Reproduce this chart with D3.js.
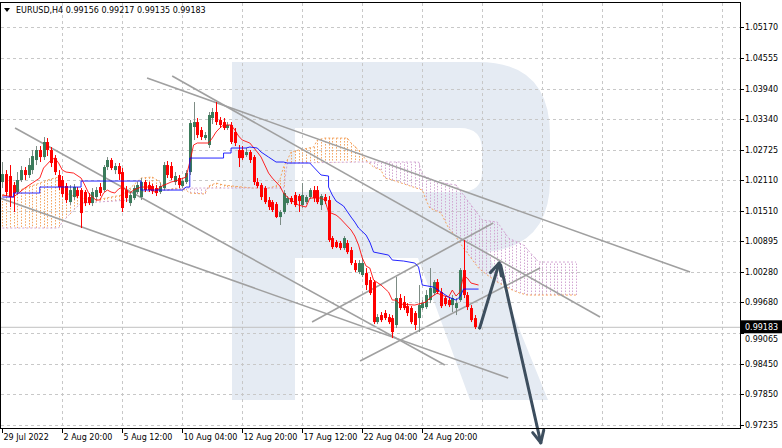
<!DOCTYPE html>
<html><head><meta charset="utf-8">
<script src="https://cdn.jsdelivr.net/npm/d3@7/dist/d3.min.js"></script>
<style>body{margin:0;background:#fff}svg{display:block}</style>
</head><body><svg id="c" width="782" height="448"></svg>
<script>
// ---------- data ----------
const symbolName = "EURUSD,H4";
const lastQuote = [0.99156, 0.99217, 0.99135, 0.99183];
const firstBar = 1;
const opens = [1.02079,1.02238,1.02199,1.02019,1.01880,1.02119,1.02318,1.02219,1.02318,1.02518,1.02717,1.02577,1.02877,1.02717,1.02557,1.02219,1.02119,1.01999,1.01680,1.01780,1.01919,1.01919,1.01880,1.01780,1.01660,1.01780,1.01979,1.01919,1.02378,1.02518,1.02318,1.02398,1.02278,1.01919,1.01660,1.01760,1.01880,1.01780,1.02079,1.02019,1.01999,1.01959,1.01880,1.01959,1.02418,1.02398,1.02079,1.02159,1.01999,1.02079,1.02278,1.03176,1.03275,1.03116,1.02956,1.02817,1.03355,1.03475,1.03315,1.03275,1.03156,1.03216,1.03076,1.02717,1.02717,1.02617,1.02677,1.02577,1.02079,1.02019,1.01959,1.01720,1.01680,1.01640,1.01381,1.01481,1.01660,1.01760,1.01820,1.01800,1.01620,1.01680,1.01780,1.01919,1.01919,1.01620,1.01780,1.01720,1.00962,1.00883,1.00863,1.00763,1.00863,1.00723,1.00464,1.00284,1.00225,1.00264,1.00125,1.00085,0.99287,0.99427,0.99467,0.99387,0.99367,0.99228,0.99766,0.99686,0.99606,0.99567,0.99467,0.99367,0.99567,0.99586,0.99726,0.99866,1.00085,0.99886,0.99766,0.99726,0.99626,0.99567,0.99726,1.00324,0.99826,0.99567,0.99367,0.99156];
const highs = [1.02478,1.02318,1.02418,1.02079,1.02278,1.02398,1.02378,1.02557,1.02717,1.02797,1.02797,1.02976,1.02956,1.02777,1.02617,1.02318,1.02199,1.02059,1.02019,1.02039,1.01979,1.01959,1.01919,1.01860,1.01959,1.01979,1.02059,1.02418,1.02577,1.02557,1.02458,1.02458,1.02358,1.01999,1.01860,1.01999,1.02079,1.02159,1.02119,1.02079,1.02039,1.02019,1.02059,1.02478,1.02498,1.02478,1.02278,1.02219,1.02159,1.02318,1.03315,1.03674,1.03355,1.03176,1.03076,1.03475,1.03555,1.03674,1.03375,1.03355,1.03275,1.03275,1.03156,1.02817,1.02797,1.02757,1.02717,1.02617,1.02159,1.02059,1.01999,1.01780,1.01720,1.01680,1.01521,1.01919,1.01800,1.01800,1.01880,1.01840,1.02059,1.01820,1.01959,1.01999,1.01999,1.01840,1.01840,1.01800,1.01002,1.00922,1.00903,1.01002,1.00922,1.00783,1.00524,1.00524,1.00564,1.00364,1.00185,1.00125,0.99447,0.99487,0.99527,0.99447,0.99427,1.00185,0.99846,0.99806,0.99666,0.99606,0.99507,1.00025,0.99726,0.99925,1.00364,1.00125,1.00145,0.99965,0.99806,0.99786,0.99826,0.99766,1.00364,1.00922,0.99886,0.99626,0.99427,0.99217];
const lows = [1.01959,1.01800,1.01580,1.01481,1.01820,1.02079,1.02119,1.02159,1.02238,1.02418,1.02478,1.02518,1.02597,1.02378,1.02219,1.01919,1.01780,1.01660,1.01620,1.01720,1.01760,1.01162,1.01600,1.01620,1.01600,1.01720,1.01800,1.01880,1.02318,1.02318,1.02238,1.02119,1.01481,1.01680,1.01600,1.01720,1.01840,1.01720,1.01880,1.01880,1.01840,1.01800,1.01840,1.01919,1.02159,1.02119,1.02019,1.01959,1.01959,1.02039,1.02219,1.02916,1.02956,1.02916,1.02916,1.02757,1.03235,1.03216,1.03156,1.03116,1.03116,1.02837,1.02797,1.02378,1.02518,1.02577,1.02458,1.02019,1.01959,1.01720,1.01640,1.01521,1.01481,1.01361,1.01222,1.01441,1.01620,1.01640,1.01580,1.01481,1.01561,1.01640,1.01740,1.01680,1.01640,1.01521,1.01640,1.00883,1.00743,1.00763,1.00723,1.00723,1.00643,1.00424,1.00284,1.00244,1.00185,0.99925,0.99826,0.99247,0.99247,0.99287,0.99327,0.99247,0.98968,0.99168,0.99527,0.99527,0.99407,0.99247,0.99128,0.99088,0.99527,0.99547,0.99666,0.99826,0.99846,0.99567,0.99606,0.99586,0.99487,0.99427,0.99686,0.99766,0.99527,0.99287,0.99148,0.99135];
const closes = [1.02238,1.01880,1.01780,1.01860,1.02119,1.02318,1.02219,1.02418,1.02597,1.02717,1.02577,1.02877,1.02717,1.02458,1.02278,1.01979,1.01840,1.01720,1.01919,1.01979,1.01800,1.01461,1.01660,1.01660,1.01880,1.01919,1.01860,1.02378,1.02518,1.02358,1.02398,1.02238,1.01561,1.01760,1.01820,1.01959,1.02019,1.02079,1.01919,1.01919,1.01899,1.01860,1.01999,1.02418,1.02219,1.02159,1.02199,1.02019,1.02099,1.02258,1.03255,1.03275,1.03016,1.02976,1.03016,1.03415,1.03475,1.03275,1.03216,1.03156,1.03216,1.02877,1.02857,1.02557,1.02557,1.02677,1.02518,1.02079,1.01999,1.01780,1.01680,1.01580,1.01521,1.01381,1.01481,1.01860,1.01760,1.01680,1.01620,1.01700,1.01820,1.01780,1.01919,1.01760,1.01680,1.01800,1.01700,1.00922,1.00783,1.00783,1.00763,1.00962,1.00683,1.00464,1.00324,1.00464,1.00464,1.00025,0.99866,0.99287,0.99387,0.99327,0.99367,0.99287,0.99088,0.99766,0.99567,0.99567,0.99467,0.99287,0.99228,0.99626,0.99666,0.99826,0.99965,1.00085,0.99886,0.99606,0.99646,0.99626,0.99766,0.99666,1.00324,0.99826,0.99586,0.99327,0.99188,0.99183];

const tenkanSen = [[1,1.01820],[4,1.01780],[7,1.01959],[9,1.02059],[11,1.02159],[12,1.02358],[14,1.02518],[15,1.02557],[16,1.02458],[17,1.02318],[18,1.02278],[20,1.02258],[22,1.02159],[23,1.02019],[24,1.01860],[25,1.01780],[26,1.01720],[27,1.01720],[28,1.01860],[29,1.01919],[30,1.01880],[31,1.01860],[32,1.01939],[33,1.01979],[34,1.01919],[35,1.01860],[36,1.01919],[38,1.01979],[40,1.01979],[41,1.01919],[42,1.01860],[43,1.01979],[46,1.02079],[48,1.02119],[50,1.02179],[51,1.02478],[52,1.02817],[53,1.02857],[56,1.02857],[57,1.02956],[58,1.03076],[59,1.03156],[60,1.03216],[62,1.03216],[63,1.03116],[64,1.02996],[65,1.02916],[67,1.02857],[69,1.02677],[70,1.02577],[71,1.02418],[72,1.02258],[73,1.02159],[74,1.02079],[75,1.01999],[76,1.01860],[77,1.01780],[78,1.01720],[80,1.01620],[82,1.01580],[83,1.01760],[86,1.01760],[87,1.01720],[88,1.01481],[90,1.01421],[91,1.01361],[92,1.01281],[94,1.01122],[95,1.01002],[96,1.00823],[97,1.00564],[98,1.00404],[99,1.00364],[100,1.00125],[102,1.00025],[104,0.99886],[105,0.99726],[106,0.99726],[107,0.99646],[111,0.99626],[113,0.99666],[114,0.99686],[115,0.99766],[117,0.99866],[118,0.99826],[120,0.99786],[121,0.99925],[122,0.99806],[123,0.99886],[124,1.00205],[125,1.00165],[126,1.00065],[128,1.00025]];
const kijunSen = [[1,1.01780],[4,1.01780],[4,1.01860],[11,1.01860],[11,1.01979],[22,1.01979],[22,1.02099],[38,1.02099],[38,1.01919],[49,1.01919],[50,1.01979],[51,1.01979],[51,1.02557],[60,1.02557],[60,1.02657],[62,1.02657],[62,1.02757],[66,1.02757],[67,1.02777],[69,1.02757],[70,1.02677],[72,1.02577],[74,1.02478],[76,1.02478],[77,1.02458],[83,1.02458],[84,1.02378],[86,1.02219],[88,1.02199],[88,1.01979],[89,1.01820],[90,1.01700],[92,1.01600],[94,1.01381],[95,1.01281],[96,1.01162],[98,1.01022],[99,1.00883],[100,1.00683],[104,1.00623],[105,1.00524],[108,1.00504],[111,1.00464],[112,1.00384],[113,1.00025],[116,0.99985],[118,0.99886],[120,0.99786],[122,0.99726],[123,0.99786],[124,0.99945],[128,0.99945]];
const senkouA = [[1,1.01820],[4,1.01880],[8,1.01979],[11,1.02059],[13,1.02119],[16,1.02179],[17,1.01919],[19,1.01820],[22,1.01760],[26,1.01720],[30,1.01780],[33,1.01820],[36,1.02019],[38,1.02159],[41,1.02179],[43,1.02079],[45,1.01919],[47,1.01959],[50,1.01919],[51,1.01860],[55,1.01840],[56,1.01999],[58,1.02059],[60,1.02019],[65,1.01979],[68,1.01959],[72,1.01959],[74,1.01999],[75,1.02119],[76,1.02378],[77,1.02518],[78,1.02677],[80,1.02717],[84,1.02777],[85,1.02916],[87,1.02956],[93,1.02956],[94,1.02857],[96,1.02717],[98,1.02518],[100,1.02378],[102,1.02318],[103,1.02159],[105,1.02119],[109,1.02019],[113,1.01919],[114,1.01720],[115,1.01561],[118,1.01461],[120,1.01162],[122,1.00982],[124,1.00763],[126,1.00564],[128,1.00364],[130,1.00244],[133,1.00085],[135,1.00005],[137,0.99925],[139,0.99866],[141,0.99826],[154,0.99826]];
const senkouB = [[1,1.01162],[16,1.01162],[17,1.01281],[20,1.01521],[22,1.01660],[35,1.01720],[37,1.01880],[45,1.01919],[50,1.01959],[76,1.01959],[77,1.02458],[96,1.02478],[112,1.02478],[113,1.02219],[117,1.02079],[122,1.02019],[126,1.01620],[129,1.01321],[133,1.01281],[136,1.00962],[140,1.00823],[144,1.00484],[154,1.00484]];

const priceTicks = [1.05170,1.04555,1.03940,1.03340,1.02725,1.02110,1.01510,1.00895,1.00280,0.99680,0.99065,0.98450,0.97850,0.97235];
const timeTickBars = [1,17,33,49,65,81,97,113];
const timeTickLabels = ["29 Jul 2022","2 Aug 20:00","5 Aug 12:00","10 Aug 04:00","12 Aug 20:00","17 Aug 12:00","22 Aug 04:00","24 Aug 20:00"];
const gridBars = [17,33,49,65,81,97,113,129,145,161,177,193];

// trend lines: [bar1, price1, bar2, price2]
const trendLines = [
  [39.6,1.04153,184.4,1.00284],
  [46.3,1.04193,160.4,0.99387],
  [4.4,1.03156,119.0,0.98430],
  [0.4,1.01760,135.9,0.98171],
  [83.6,0.99287,131.9,1.01261],
  [96.4,0.98510,144.4,1.00364]
];
// forecast arrows: [bar1, price1, bar2, price2]
const forecastArrows = [
  [128.3,0.99168,133.5,1.00464],
  [133.9,1.00424,144.6,0.96880]
];

// ---------- layout ----------
const W = 782, H = 448;
const plot = {l:1, r:740, t:3, b:428};
const x = d3.scaleLinear().domain([0,160]).range([-1.45, 598.55]);
const y = d3.scaleLinear().domain([0.97235,1.05170]).range([425,27]);
const svg = d3.select("#c");
const FONT = "DejaVu Sans, Verdana, sans-serif";

svg.append("rect").attr("width",W).attr("height",H).attr("fill","#fff");

// watermark (decorative logo)
svg.append("path")
  .attr("d","M232,62 L478,62 Q550,62 550,135 L550,180 Q550,245 488,252 L548,400 L470,400 L418,258 L295,258 L295,400 L232,400 Z M295,128 L460,128 Q482,128 482,150 L482,172 Q482,192 460,192 L295,192 Z")
  .attr("fill","#e5ebf3").attr("fill-rule","evenodd");

// grid
const grid = svg.append("g").attr("stroke","#c8c8c8").attr("stroke-dasharray","3,3").attr("stroke-width",1);
priceTicks.forEach(p=>{
  grid.append("line").attr("x1",plot.l).attr("x2",plot.r).attr("y1",Math.round(y(p))+0.5).attr("y2",Math.round(y(p))+0.5);
});
gridBars.forEach(b=>{
  const xx = Math.round(x(b))+0.5;
  if (xx < plot.r) grid.append("line").attr("x1",xx).attr("x2",xx).attr("y1",plot.t).attr("y2",plot.b);
});

const clipId = "plotclip";
svg.append("clipPath").attr("id",clipId).append("rect").attr("x",plot.l).attr("y",plot.t).attr("width",plot.r-plot.l).attr("height",plot.b-plot.t);
const g = svg.append("g").attr("clip-path",`url(#${clipId})`);

// kumo hatch
function interp(arr, b){
  for (let k=0;k<arr.length-1;k++){
    const [b0,v0]=arr[k],[b1,v1]=arr[k+1];
    if (b>=b0 && b<=b1){ if (b1===b0) return v1; return v0+(v1-v0)*(b-b0)/(b1-b0); }
  }
  return null;
}
const bStart = senkouA[0][0], bEnd = senkouA[senkouA.length-1][0];
for (let b=bStart; b<=bEnd; b++){
  const a = interp(senkouA,b), bb = interp(senkouB,b);
  if (a==null||bb==null) continue;
  const xx = Math.round(x(b))+0.5;
  g.append("line").attr("x1",xx).attr("x2",xx).attr("y1",y(a)).attr("y2",y(bb))
   .attr("stroke", a>=bb ? "#f4a460" : "#d2a6d2").attr("stroke-width",1).attr("stroke-dasharray","1.5,1.5");
}
const line = d3.line().x(d=>x(d[0])).y(d=>y(d[1]));
g.append("path").attr("d",line(senkouA)).attr("fill","none").attr("stroke","#f4a460").attr("stroke-width",1).attr("stroke-dasharray","2,2");
g.append("path").attr("d",line(senkouB)).attr("fill","none").attr("stroke","#d2a6d2").attr("stroke-width",1).attr("stroke-dasharray","2,2");

// trend lines
trendLines.forEach(t=>{
  g.append("line").attr("x1",x(t[0])).attr("y1",y(t[1])).attr("x2",x(t[2])).attr("y2",y(t[3]))
   .attr("stroke","#a0a0a0").attr("stroke-width",1.6);
});

// current price line
g.append("line").attr("x1",plot.l).attr("x2",plot.r).attr("y1",y(lastQuote[3])).attr("y2",y(lastQuote[3]))
  .attr("stroke","#c0c0c0").attr("stroke-width",1);

// candles
const candles = opens.map((o,k)=>({i:firstBar+k,o,h:highs[k],l:lows[k],c:closes[k]}));
candles.forEach(d=>{
  const up = d.c>=d.o;
  const cx = Math.round(x(d.i))+0.5;
  g.append("line").attr("x1",cx).attr("x2",cx).attr("y1",y(d.h)).attr("y2",y(d.l))
    .attr("stroke", up?"#7d8c85":"#ff0000").attr("stroke-width",1);
  const top = y(Math.max(d.o,d.c)), bot = y(Math.min(d.o,d.c));
  g.append("rect").attr("x",cx-1.5).attr("width",3).attr("y",top).attr("height",Math.max(1,bot-top))
    .attr("fill", up?"#3b7b5b":"#ff0000");
});

// tenkan / kijun
g.append("path").attr("d",line(tenkanSen)).attr("fill","none").attr("stroke","#ff0000").attr("stroke-width",1).attr("opacity",0.85);
g.append("path").attr("d",line(kijunSen)).attr("fill","none").attr("stroke","#0000ff").attr("stroke-width",1).attr("opacity",0.85);

// forecast arrows
const arrowCol = "#3d4e5e";
forecastArrows.forEach(a=>{
  const x1=x(a[0]),y1=y(a[1]),x2=x(a[2]),y2=y(a[3]);
  svg.append("line").attr("x1",x1).attr("y1",y1).attr("x2",x2).attr("y2",y2).attr("stroke",arrowCol).attr("stroke-width",3).attr("stroke-linecap","round");
  const ang=Math.atan2(y2-y1,x2-x1), L=13, s=0.45;
  const p1=[x2-L*Math.cos(ang-s),y2-L*Math.sin(ang-s)], p2=[x2-L*Math.cos(ang+s),y2-L*Math.sin(ang+s)];
  svg.append("path").attr("d",`M${p1[0]},${p1[1]} L${x2},${y2} L${p2[0]},${p2[1]}`).attr("fill","none")
    .attr("stroke",arrowCol).attr("stroke-width",3).attr("stroke-linecap","round").attr("stroke-linejoin","round");
});

// frame
svg.append("line").attr("x1",plot.l-0.5).attr("x2",plot.l-0.5).attr("y1",plot.t).attr("y2",plot.b).attr("stroke","#000");
svg.append("line").attr("x1",plot.r+0.5).attr("x2",plot.r+0.5).attr("y1",plot.t).attr("y2",plot.b+0.5).attr("stroke","#000");
svg.append("line").attr("x1",plot.l-1).attr("x2",plot.r+1).attr("y1",plot.b+0.5).attr("y2",plot.b+0.5).attr("stroke","#000");
svg.append("line").attr("x1",plot.l-1).attr("x2",plot.r+1).attr("y1",plot.t-0.5).attr("y2",plot.t-0.5).attr("stroke","#000");

// price axis
const ly = y(lastQuote[3]);
priceTicks.forEach(p=>{
  const yy = Math.round(y(p))+0.5;
  svg.append("line").attr("x1",plot.r).attr("x2",plot.r+4).attr("y1",yy).attr("y2",yy).attr("stroke","#000");
  // label partly hidden by the last-price tag in the original: nudge it just below the tag
  const ty = Math.abs(yy-ly) < 12 ? ly+12 : yy;
  svg.append("text").attr("x",plot.r+5).attr("y",ty).attr("dy","0.35em").attr("font-family",FONT).attr("font-size",8).attr("fill","#000").text(p.toFixed(5));
});
// last price tag
svg.append("rect").attr("x",plot.r+1).attr("y",ly-7).attr("width",41).attr("height",13).attr("fill","#000");
svg.append("text").attr("x",plot.r+5).attr("y",ly-0.5).attr("dy","0.35em").attr("font-family",FONT).attr("font-size",8).attr("fill","#fff").text(lastQuote[3].toFixed(5));

// time axis
timeTickBars.forEach((b,k)=>{
  const xx = Math.round(x(b))+0.5;
  svg.append("line").attr("x1",xx).attr("x2",xx).attr("y1",plot.b).attr("y2",plot.b+5).attr("stroke","#000");
  svg.append("text").attr("x",xx+1).attr("y",437).attr("dy","0.35em").attr("font-family",FONT).attr("font-size",8).attr("fill","#000").text(timeTickLabels[k]);
});

// title
svg.append("path").attr("d","M4,8 L10,8 L7,12 Z").attr("fill","#000");
svg.append("text").attr("x",16).attr("y",10).attr("dy","0.35em").attr("font-family",FONT).attr("font-size",8).attr("fill","#000")
  .text(symbolName+"  "+lastQuote.map(v=>v.toFixed(5)).join(" "));
</script></body></html>
